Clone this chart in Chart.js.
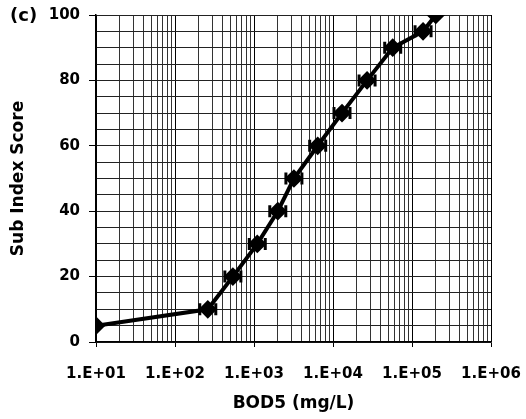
<!DOCTYPE html>
<html lang="en">
<head>
    <meta charset="UTF-8">
    <title>Sub Index Score vs BOD5</title>
    <script src="https://cdn.jsdelivr.net/npm/chart.js"></script>
    <style>
        body {
            margin: 0;
            background: #fff;
        }
        .wrap {
            width: 526px;
            height: 419px;
            position: relative;
        }
    </style>
</head>
<body>
    <div class="wrap">
        <canvas id="subIndexChart"></canvas>
    </div>
    <script>
        // values
        const bod = [10, 260, 540, 1100, 2000, 3200, 6400, 13000, 27000, 57000, 138000, 200000];
        const score = [5, 10, 20, 30, 40, 50, 60, 70, 80, 90, 95, 100];
        const xTickLabels = {10: '1.E+01', 100: '1.E+02', 1000: '1.E+03', 10000: '1.E+04', 100000: '1.E+05', 1000000: '1.E+06'};
        const yLabelled = [0, 20, 40, 60, 80, 100];

        const FONT = 'DejaVu Sans';

        const isDecade = v => Math.abs(Math.log10(v) - Math.round(Math.log10(v))) < 1e-9;

        // small caps on each side of the inner markers
        const capsPlugin = {
            id: 'caps',
            afterDatasetsDraw(chart) {
                const meta = chart.getDatasetMeta(0);
                const c = chart.ctx;
                c.save();
                c.strokeStyle = '#000';
                c.lineWidth = 3;
                meta.data.forEach((pt, i) => {
                    if (i === 0 || i === meta.data.length - 1) return;
                    c.beginPath();
                    c.moveTo(pt.x - 8, pt.y);
                    c.lineTo(pt.x + 8, pt.y);
                    c.moveTo(pt.x - 8, pt.y - 6);
                    c.lineTo(pt.x - 8, pt.y + 6);
                    c.moveTo(pt.x + 8, pt.y - 6);
                    c.lineTo(pt.x + 8, pt.y + 6);
                    c.stroke();
                });
                c.restore();
            }
        };

        const panelLabel = {
            id: 'panelLabel',
            afterDraw(chart) {
                const c = chart.ctx;
                c.save();
                c.font = 'bold 18px "' + FONT + '"';
                c.fillStyle = '#000';
                c.textBaseline = 'middle';
                c.textAlign = 'left';
                c.fillText('(c)', 10, 16);
                c.restore();
            }
        };

        const ctx = document.getElementById('subIndexChart').getContext('2d');

        const chart = new Chart(ctx, {
            type: 'line',
            data: {
                datasets: [{
                    label: 'Sub Index',
                    data: bod.map((b, i) => ({x: b, y: score[i]})),
                    borderColor: '#000',
                    backgroundColor: '#000',
                    borderWidth: 4,
                    pointStyle: 'rectRot',
                    pointRadius: 6.5,
                    pointHoverRadius: 6.5,
                    tension: 0
                }]
            },
            options: {
                responsive: true,
                maintainAspectRatio: false,
                animation: false,
                layout: {
                    padding: {left: 0, right: 35, top: 15, bottom: 0}
                },
                plugins: {
                    legend: {display: false},
                    tooltip: {enabled: false}
                },
                scales: {
                    x: {
                        type: 'logarithmic',
                        min: 10,
                        max: 1000000,
                        afterBuildTicks: scale => {
                            scale.ticks = scale.ticks.filter(t => {
                                const m = t.value / Math.pow(10, Math.floor(Math.log10(t.value) + 1e-9));
                                return Math.abs(m - Math.round(m)) < 1e-6;
                            });
                        },
                        afterFit: scale => {
                            scale.height = 77;
                            scale.paddingLeft = 0;
                            scale.paddingRight = 0;
                        },
                        border: {color: '#000', width: 1.5},
                        grid: {
                            color: c => isDecade(c.tick.value) ? '#000' : '#333',
                            lineWidth: 1,
                            tickLength: 5,
                            tickColor: c => isDecade(c.tick.value) ? '#000' : 'rgba(0,0,0,0)'
                        },
                        ticks: {
                            autoSkip: false,
                            maxRotation: 0,
                            padding: 18,
                            color: '#000',
                            font: {family: FONT, size: 15, weight: 'bold'},
                            callback: v => xTickLabels[Math.round(v)] || ''
                        },
                        title: {
                            display: true,
                            text: 'BOD5 (mg/L)',
                            color: '#000',
                            font: {family: FONT, size: 17, weight: 'bold'},
                            padding: {top: 0, bottom: 5}
                        }
                    },
                    y: {
                        type: 'linear',
                        min: 0,
                        max: 100,
                        afterFit: scale => {
                            scale.width = 96;
                            scale.paddingTop = 0;
                            scale.paddingBottom = 0;
                        },
                        border: {color: '#000', width: 1.5},
                        grid: {
                            color: '#222',
                            lineWidth: 1,
                            tickLength: 7,
                            tickColor: c => yLabelled.includes(c.tick.value) ? '#000' : 'rgba(0,0,0,0)'
                        },
                        ticks: {
                            stepSize: 5,
                            autoSkip: false,
                            padding: 9,
                            color: '#000',
                            font: {family: FONT, size: 15, weight: 'bold'},
                            callback: v => yLabelled.includes(v) ? String(v) : ''
                        },
                        title: {
                            display: true,
                            text: 'Sub Index Score',
                            color: '#000',
                            font: {family: FONT, size: 17, weight: 'bold'},
                            padding: {top: 8, bottom: 0}
                        }
                    }
                }
            },
            plugins: [capsPlugin, panelLabel]
        });
    </script>
</body>
</html>
